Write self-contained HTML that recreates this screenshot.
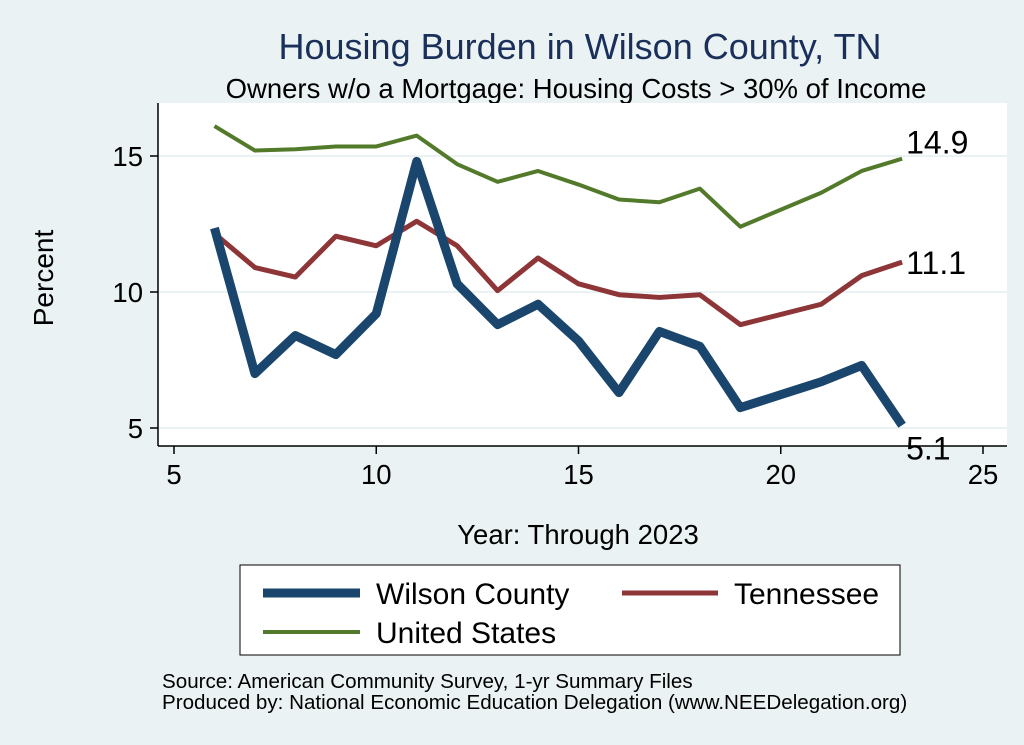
<!DOCTYPE html>
<html><head><meta charset="utf-8"><style>
body{margin:0;background:#eaf2f3;font-family:"Liberation Sans",sans-serif}
svg{display:block}
</style></head><body>
<svg width="1024" height="745">
<rect x="0" y="0" width="1024" height="745" fill="#eaf2f3"/>
<text x="580" y="59" font-size="36" fill="#1a2f5a" text-anchor="middle">Housing Burden in Wilson County, TN</text>
<text x="576" y="98" font-size="27.5" fill="#000" text-anchor="middle">Owners w/o a Mortgage: Housing Costs &gt; 30% of Income</text>
<rect x="158" y="103" width="849" height="343" fill="#fff"/>
<g id="grid"></g>
<line x1="158" y1="446" x2="1007" y2="446" stroke="#000" stroke-width="1.5"/>
<line x1="158" y1="103" x2="158" y2="446" stroke="#000" stroke-width="1.5"/>
<g id="ticks"></g>
<g id="series"></g>
<text x="53" y="278" font-size="28" text-anchor="middle" transform="rotate(-90 53 278)">Percent</text>
<text x="578" y="544" font-size="27.5" text-anchor="middle">Year: Through 2023</text>
<rect x="240" y="565" width="660" height="90" fill="#fff" stroke="#000" stroke-width="1"/>
<g><line x1="263" y1="593" x2="360" y2="593" stroke="#1a466d" stroke-width="9"/><text x="376" y="604" font-size="30">Wilson County</text></g>
<g><line x1="622" y1="593" x2="718" y2="593" stroke="#8e3538" stroke-width="5"/><text x="734" y="604" font-size="30">Tennessee</text></g>
<g><line x1="263" y1="632" x2="360" y2="632" stroke="#527a2a" stroke-width="4"/><text x="376" y="643" font-size="30">United States</text></g>
<text x="162" y="688" font-size="20.6">Source: American Community Survey, 1-yr Summary Files</text>
<text x="162" y="709" font-size="20.6">Produced by: National Economic Education Delegation (www.NEEDelegation.org)</text>
</svg>
<script>
const years=[6,7,8,9,10,11,12,13,14,15,16,17,18,19,21,22,23];
const wilson=[12.35,7.0,8.4,7.7,9.2,14.8,10.3,8.8,9.55,8.2,6.3,8.55,8.0,5.75,6.7,7.3,5.1];
const tennessee=[12.15,10.9,10.55,12.05,11.7,12.6,11.7,10.05,11.25,10.3,9.9,9.8,9.9,8.8,9.55,10.6,11.1];
const us=[16.1,15.2,15.25,15.35,15.35,15.75,14.7,14.05,14.45,13.95,13.4,13.3,13.8,12.4,13.65,14.45,14.9];
const xTicks=[5,10,15,20,25];
const yTicks=[5,10,15];
const NS='http://www.w3.org/2000/svg';
const X=v=>174+(v-5)*40.45;
const Y=v=>428-(v-5)*27.2;
function mk(t,a,p){const e=document.createElementNS(NS,t);for(const k in a)e.setAttribute(k,a[k]);p.appendChild(e);return e;}
const grid=document.getElementById('grid'),ticks=document.getElementById('ticks'),ser=document.getElementById('series');
yTicks.forEach(v=>{
 const g=mk('line',{x1:158,x2:1007,y1:Y(v),y2:Y(v),stroke:'#eaf2f3','stroke-width':2},grid);
 
 
 const t=mk('line',{x1:150,x2:158,y1:Y(v),y2:Y(v),stroke:'#000','stroke-width':1.5},ticks);
 
 
 const l=mk('text',{x:143,y:Y(v)+10,'font-size':27.5,'text-anchor':'end'},ticks);l.textContent=v;
 
 
});
xTicks.forEach(v=>{
 const t=mk('line',{x1:X(v),x2:X(v),y1:446,y2:454,stroke:'#000','stroke-width':1.5},ticks);
 
 
 const l=mk('text',{x:X(v),y:484,'font-size':27.5,'text-anchor':'middle'},ticks);l.textContent=v;
 
 
});
function line(vals,color,w,name,dy){
 const p=mk('polyline',{points:years.map((y,i)=>X(y)+','+Y(vals[i])).join(' '),fill:'none',stroke:color,'stroke-width':w,'stroke-linejoin':'round'},ser);
 
 
 const last=vals[vals.length-1];
 const l=mk('text',{x:X(years[years.length-1])+4,y:Y(last)+dy,'font-size':32},ser);l.textContent=last.toFixed(1);
 
 
}
line(us,'#527a2a',4,'us-line',-5);
line(tennessee,'#8e3538',5,'tennessee-line',12);
line(wilson,'#1a466d',9,'wilson-line',34);
</script>
</body></html>
